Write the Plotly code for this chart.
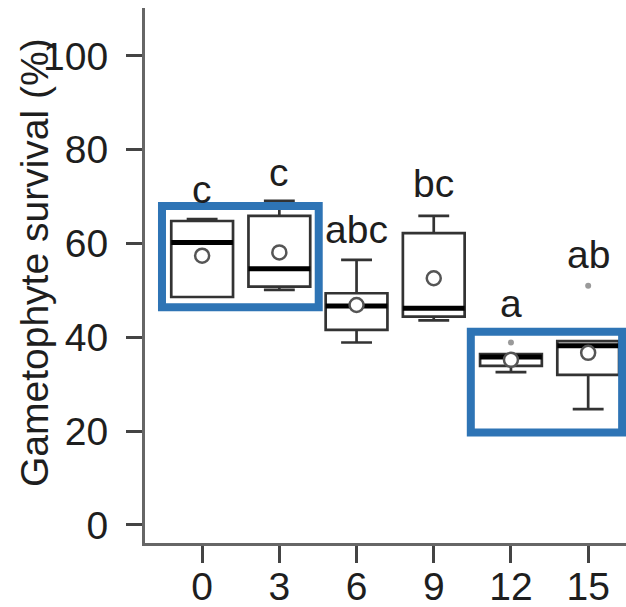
import plotly.graph_objects as go

# ---- data ----
CATEGORIES = ["0", "3", "6", "9", "12", "15"]
LOWER = [48.6, 50.1, 38.9, 43.6, 32.6, 24.7]
Q1 = [48.6, 50.8, 41.6, 44.4, 33.9, 32.0]
MEDIAN = [60.2, 54.6, 46.7, 46.2, 35.8, 38.2]
Q3 = [64.8, 65.9, 49.4, 62.2, 36.4, 39.2]
UPPER = [65.2, 69.1, 56.5, 65.9, 36.4, 39.2]
MEAN = [57.4, 58.1, 46.9, 52.6, 35.2, 36.7]
OUTLIER_CAT = ["12", "15"]
OUTLIER_Y = [38.9, 51.0]
LETTERS = ["c", "c", "abc", "bc", "a", "ab"]
LETTER_Y = [68.9, 72.5, 60.4, 70.1, 44.6, 54.9]
# highlighted groups (blue frames), in data units
HL_X0 = [-0.52, 3.48]
HL_X1 = [1.51, 5.44]
HL_Y0 = [46.4, 19.7]
HL_Y1 = [68.0, 41.2]
Y_TICKS = [0, 20, 40, 60, 80, 100]

# ---- styling ----
FONT = "Liberation Sans, Arial, sans-serif"
TXT = "#1e1e1e"
BOX_W = 0.8
xs = list(range(len(CATEGORIES)))
pos = {c: i for i, c in enumerate(CATEGORIES)}

fig = go.Figure()
fig.add_trace(go.Box(
    x=xs, q1=Q1, median=MEDIAN, q3=Q3, lowerfence=LOWER, upperfence=UPPER,
    width=BOX_W, whiskerwidth=0.5, fillcolor="white",
    line=dict(color="#333333", width=2.7), boxpoints=False, showlegend=False,
))

mx, my = [], []
for i, m in zip(xs, MEDIAN):
    mx += [i - BOX_W / 2, i + BOX_W / 2, None]
    my += [m, m, None]
fig.add_trace(go.Scatter(x=mx, y=my, mode="lines", line=dict(color="black", width=5),
                         showlegend=False, hoverinfo="skip"))

fig.add_trace(go.Scatter(x=xs, y=MEAN, mode="markers", showlegend=False,
                         marker=dict(symbol="circle", size=14, color="white",
                                     line=dict(color="#555", width=2.5))))
fig.add_trace(go.Scatter(x=[pos[c] for c in OUTLIER_CAT], y=OUTLIER_Y, mode="markers",
                         showlegend=False, marker=dict(size=6, color="#9a9a9a")))

for x0, x1, y0, y1 in zip(HL_X0, HL_X1, HL_Y0, HL_Y1):
    fig.add_shape(type="rect", xref="x", yref="y", x0=x0, x1=x1, y0=y0, y1=y1,
                  line=dict(color="#2e74b5", width=8), fillcolor="rgba(0,0,0,0)", layer="above")

for i, (lab, ly) in enumerate(zip(LETTERS, LETTER_Y)):
    fig.add_annotation(x=i, y=ly, text=lab, showarrow=False, yanchor="bottom",
                       xanchor="center", yshift=-11, font=dict(family=FONT, size=39, color=TXT))

fig.add_annotation(xref="paper", yref="paper", x=(34 - 145) / 481, y=(543 - 263) / 535,
                   text="Gametophyte survival (%)", textangle=-90, showarrow=False,
                   xanchor="center", yanchor="middle",
                   font=dict(family=FONT, size=39, color=TXT))

axis_common = dict(showline=True, linecolor="#666", linewidth=3, ticks="outside",
                   tickcolor="#444", tickwidth=3, showgrid=False, zeroline=False,
                   automargin=False,
                   tickfont=dict(family=FONT, size=39, color=TXT))
fig.update_xaxes(range=[-0.74, 5.49], tickvals=xs, ticktext=CATEGORIES, ticklen=17,
                 ticklabelstandoff=-10, **axis_common)
fig.update_yaxes(range=[-3.84, 110.2], tickvals=Y_TICKS, ticklen=16, ticklabelstandoff=10,
                 **axis_common)

fig.update_layout(width=626, height=607, margin=dict(l=145, r=0, t=8, b=64),
                  plot_bgcolor="white", paper_bgcolor="white", showlegend=False)
fig.write_html("out.html")
